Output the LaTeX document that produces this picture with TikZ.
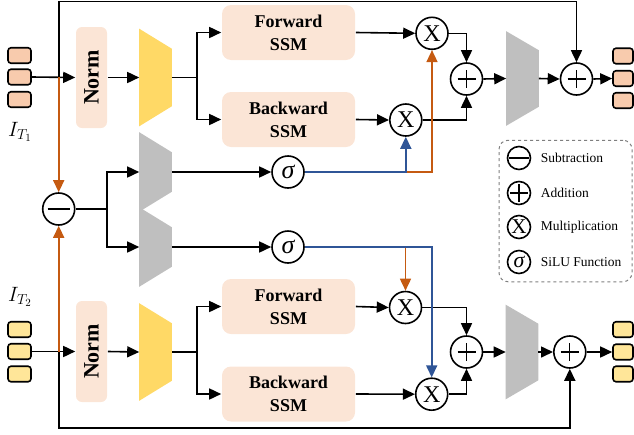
\documentclass[tikz,border=0pt]{standalone}
\usepackage{fontspec}
\setmainfont{Liberation Serif}
\usetikzlibrary{arrows.meta,calc}
\definecolor{tokA}{HTML}{F8CBAD}
\definecolor{tokB}{HTML}{FFE699}
\definecolor{boxc}{HTML}{FBE5D6}
\definecolor{encc}{HTML}{FFD966}
\definecolor{grayc}{HTML}{BFBFBF}
\definecolor{orc}{HTML}{C55A11}
\definecolor{blc}{HTML}{2F5597}
\definecolor{legc}{HTML}{7F7F7F}
\begin{document}
\begin{tikzpicture}[x=1pt,y=-1pt,line width=1.6pt,
 arr/.style={-{Triangle[length=12pt,width=11pt]}},
 tokn/.style={draw,rounded corners=3pt,minimum width=23pt,minimum height=15.5pt,inner sep=0pt},
 normbox/.style={fill=boxc,draw=none,rounded corners=6pt,minimum width=31pt,minimum height=101pt,inner sep=0pt},
 normtxt/.style={rotate=90,font=\bfseries\fontsize{22}{22}\selectfont,inner sep=0pt},
 ssm/.style={fill=boxc,draw=none,rounded corners=9pt,minimum width=133pt,minimum height=55pt,inner sep=0pt,align=center,font=\bfseries\fontsize{18}{23}\selectfont},
 opc/.style={draw,circle,minimum size=32pt,inner sep=0pt},
 legop/.style={draw,circle,minimum size=23pt,inner sep=0pt},
 legtxt/.style={anchor=west,inner sep=0pt,font=\fontsize{13.5}{14}\selectfont},
 ghost/.style={inner sep=0pt,minimum width=31pt,draw=none},
 lbl/.style={inner sep=0pt,font=\fontsize{21}{21}\selectfont}]
\useasboundingbox (0,0) rectangle (634,434);

% ---------- tokens ----------
\node[tokn,fill=tokA] (t1a) at (19.5,55.5) {};
\node[tokn,fill=tokA] (t1b) at (19.5,77) {};
\node[tokn,fill=tokA] (t1c) at (19.5,99.5) {};
\node[tokn,fill=tokB] (t2a) at (19.5,329.5) {};
\node[tokn,fill=tokB] (t2b) at (19.5,351.5) {};
\node[tokn,fill=tokB] (t2c) at (19.5,374) {};
\node[tokn,fill=tokA,minimum width=20pt] (o1a) at (623,56) {};
\node[tokn,fill=tokA,minimum width=20pt] (o1b) at (623,78.5) {};
\node[tokn,fill=tokA,minimum width=20pt] (o1c) at (623,100.5) {};
\node[tokn,fill=tokB,minimum width=20pt] (o2a) at (623,329.5) {};
\node[tokn,fill=tokB,minimum width=20pt] (o2b) at (623,352) {};
\node[tokn,fill=tokB,minimum width=20pt] (o2c) at (623,374) {};
\node[lbl] (l1) at (20,132) {$I_{T_1}$};
\node[lbl] (l2) at (20,297) {$I_{T_2}$};

% ---------- norm ----------
\node[normbox] (n1) at (91.5,77.5) {};
\node[normtxt] (n1t) at (n1) {Norm};
\node[normbox] (n2) at (91.5,351.5) {};
\node[normtxt] (n2t) at (n2) {Norm};

% ---------- trapezoids ----------
\node[ghost,minimum height=96pt] (e1) at (155.5,77.5) {};
\fill[encc] (e1.north west) -- ($(e1.north east)+(0,20)$) -- ($(e1.south east)+(0,-20)$) -- (e1.south west) -- cycle;
\node[ghost,minimum height=96pt] (e2) at (155.5,352) {};
\fill[encc] (e2.north west) -- ($(e2.north east)+(0,20)$) -- ($(e2.south east)+(0,-20)$) -- (e2.south west) -- cycle;
\node[ghost,minimum height=78pt] (g1) at (155.5,172) {};
\fill[grayc] (g1.north west) -- ($(g1.north east)+(0,20)$) -- ($(g1.south east)+(0,-20)$) -- (g1.south west) -- cycle;
\node[ghost,minimum height=78pt] (g2) at (155.5,247) {};
\fill[grayc] (g2.north west) -- ($(g2.north east)+(0,20)$) -- ($(g2.south east)+(0,-20)$) -- (g2.south west) -- cycle;
\node[ghost,minimum height=93pt] (d1) at (522.5,78.5) {};
\fill[grayc] (d1.north west) -- ($(d1.north east)+(0,19)$) -- ($(d1.south east)+(0,-19)$) -- (d1.south west) -- cycle;
\node[ghost,minimum height=93pt] (d2) at (522,352) {};
\fill[grayc] (d2.north west) -- ($(d2.north east)+(0,19)$) -- ($(d2.south east)+(0,-19)$) -- (d2.south west) -- cycle;

% ---------- SSM boxes ----------
\node[ssm] (f1) at (288.5,32.5) {Forward\\SSM};
\node[ssm] (b1) at (288.5,119.5) {Backward\\SSM};
\node[ssm] (f2) at (288.5,306.5) {Forward\\SSM};
\node[ssm] (b2) at (288.5,394) {Backward\\SSM};

% ---------- operators ----------
\node[opc] (mi) at (58.7,209) {};
\draw[line width=1.2pt] ($(mi)+(-11,0)$) -- ($(mi)+(11,0)$);
\node[opc,font=\fontsize{24}{24}\selectfont] (m1) at (432,33.3) {X};
\node[opc,font=\fontsize{24}{24}\selectfont] (m2) at (405.8,120) {X};
\node[opc,font=\fontsize{24}{24}\selectfont] (m3) at (405.5,307.5) {X};
\node[opc,font=\fontsize{24}{24}\selectfont] (m4) at (431.7,394.2) {X};
\node[opc,font=\itshape\fontsize{26}{26}\selectfont] (s1) at (288,172) {σ};
\node[opc,font=\itshape\fontsize{26}{26}\selectfont] (s2) at (288,247) {σ};
\node[opc] (p1) at (466.5,79) {};
\node[opc] (p2) at (466.5,352) {};
\node[opc] (q1) at (576.5,79) {};
\node[opc] (q2) at (569.8,352) {};
\foreach \c in {p1,p2,q1,q2}{
  \draw[line width=1.2pt] ($(\c)+(-9,0)$) -- ($(\c)+(9,0)$) ($(\c)+(0,-9)$) -- ($(\c)+(0,9)$);
}

% ---------- junction coordinates ----------
\coordinate (j1) at (58.7,77);
\coordinate (j2) at (58.7,351.5);
\coordinate (topy) at (0,1.5);
\coordinate (boty) at (0,428);
\coordinate (js) at (107,209);
\coordinate (sp1) at (197,77.5);
\coordinate (sp2) at (197,352);

% ---------- upper branch ----------
\draw[arr] (t1b.east) -- (n1.west);
\draw[arr] (j1) -- (j1 |- topy) -| (q1.north);
\draw[arr] (n1.east) -- (e1.west);
\draw (e1.east) -- (sp1);
\draw[arr] (sp1) |- (f1.west);
\draw[arr] (sp1) |- (b1.west);
\draw[arr] (f1.east) -- (m1.west);
\draw[arr] (b1.east) -- (m2.west);
\draw[arr] (m1.east) -| (p1.north);
\draw[arr] (m2.east) -| (p1.south);
\draw[arr] (p1.east) -- (d1.west);
\draw[arr] (d1.east) -- (q1.west);
\draw[arr] (q1.east) -- (o1b.west);

% ---------- lower branch ----------
\draw[arr] (t2b.east) -- (n2.west);
\draw[arr] (j2) -- (j2 |- boty) -| (q2.south);
\draw[arr] (n2.east) -- (e2.west);
\draw (e2.east) -- (sp2);
\draw[arr] (sp2) |- (f2.west);
\draw[arr] (sp2) |- (b2.west);
\draw[arr] (f2.east) -- (m3.west);
\draw[arr] (b2.east) -- (m4.west);
\draw[arr] (m3.east) -| (p2.north);
\draw[arr] (m4.east) -| (p2.south);
\draw[arr] (p2.east) -- (d2.west);
\draw[arr] (d2.east) -- (q2.west);
\draw[arr] (q2.east) -- (o2b.west);

% ---------- difference path ----------
\draw[arr,orc] (j1) -- (mi.north);
\draw[arr,orc] (j2) -- (mi.south);
\draw (mi.east) -- (js);
\draw[arr] (js) |- (g1.west);
\draw[arr] (js) |- (g2.west);
\draw[arr] (g1.east) -- (s1.west);
\draw[arr] (g2.east) -- (s2.west);
\draw[arr,orc] (m2 |- s1) -| (m1.south);
\draw[arr,blc] (s1.east) -| (m2.south);
\draw[arr,orc] (m3 |- s2) -- (m3.north);
\draw[arr,blc] (s2.east) -| (m4.north);

% ---------- legend ----------
\node[draw=legc,dashed,line width=1pt,rounded corners=9pt,minimum width=133pt,minimum height=141.5pt,inner sep=0pt] (leg) at (565.5,211) {};
\node[legop] (lmi) at (519,158) {};
\draw[line width=1.2pt] ($(lmi)+(-10,0)$) -- ($(lmi)+(10,0)$);
\node[legop] (lpl) at (519,193) {};
\draw[line width=1.2pt] ($(lpl)+(-9,0)$) -- ($(lpl)+(9,0)$) ($(lpl)+(0,-9)$) -- ($(lpl)+(0,9)$);
\node[legop,font=\fontsize{21}{21}\selectfont] (lmu) at (519,227) {X};
\node[legop,font=\itshape\fontsize{22}{22}\selectfont] (lsi) at (519,262) {σ};
\node[legtxt] (lt1) at (540,158) {Subtraction};
\node[legtxt] (lt2) at (540,193) {Addition};
\node[legtxt] (lt3) at (540,227) {Multiplication};
\node[legtxt] (lt4) at (540,262) {SiLU Function};
\end{tikzpicture}
\end{document}
